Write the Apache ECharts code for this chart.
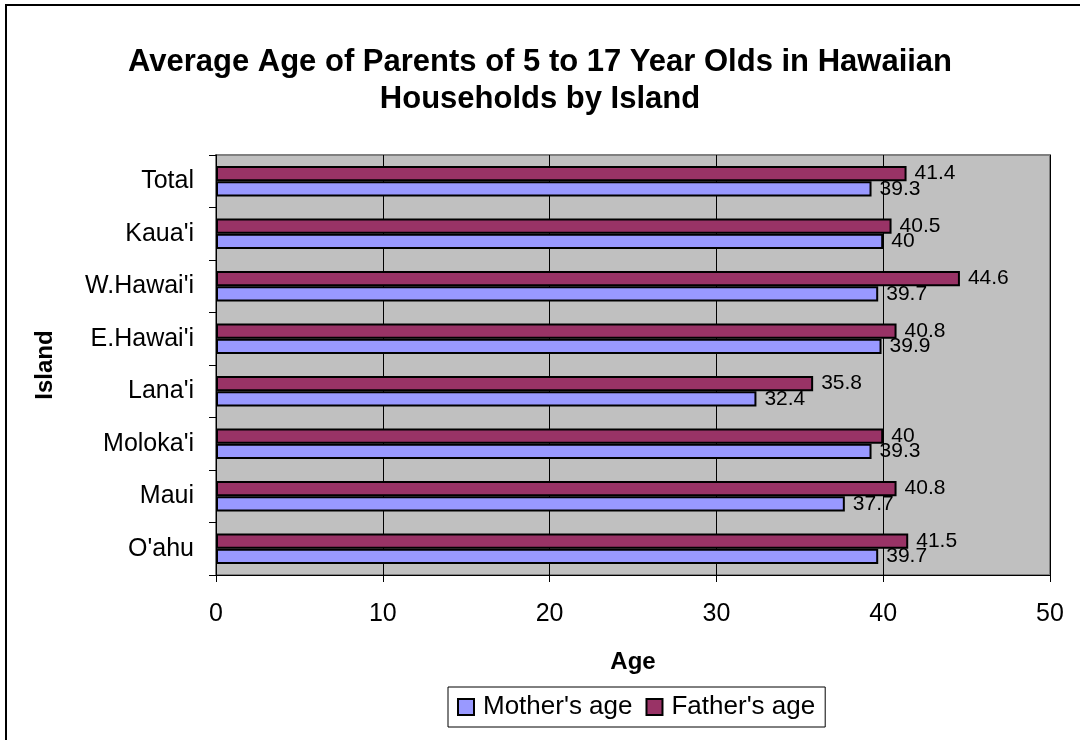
<!DOCTYPE html>
<html>
<head>
<meta charset="utf-8">
<script src="https://cdn.jsdelivr.net/npm/echarts@6/dist/echarts.min.js"></script>
<style>
  html, body { margin: 0; padding: 0; background: #fff; }
  #chart { width: 1080px; height: 740px; }
</style>
</head>
<body>
<div id="chart"></div>
<script>
// Islands listed bottom-to-top along the category axis
const islands = ["O'ahu", "Maui", "Moloka'i", "Lana'i", "E.Hawai'i", "W.Hawai'i", "Kaua'i", "Total"];
const motherAge = [39.7, 37.7, 39.3, 32.4, 39.9, 39.7, 40, 39.3];
const fatherAge = [41.5, 40.8, 40, 35.8, 40.8, 44.6, 40.5, 41.4];
const ageTicks = [0, 10, 20, 30, 40, 50];

const FONT = "'Liberation Sans', Arial, sans-serif";

const chart = echarts.init(document.getElementById('chart'), null, { renderer: 'canvas' });

const labelStyle = {
  show: true,
  position: 'right',
  distance: 8,
  color: '#000',
  fontFamily: FONT,
  fontSize: 21
};

chart.setOption({
  backgroundColor: '#fff',
  animation: false,
  title: {
    text: 'Average Age of Parents of 5 to 17 Year Olds in Hawaiian\nHouseholds by Island',
    left: 'center',
    top: 39,
    textStyle: {
      fontFamily: FONT,
      fontSize: 31,
      fontWeight: 'bold',
      color: '#000',
      lineHeight: 37
    }
  },
  legend: {
    data: ["Mother's age", "Father's age"],
    left: 448,
    top: 687,
    padding: [7, 10, 7, 9],
    itemGap: 13,
    itemWidth: 16,
    itemHeight: 16,
    borderColor: '#000',
    borderWidth: 1,
    icon: 'rect',
    itemStyle: { borderColor: '#000', borderWidth: 2 },
    textStyle: { fontFamily: FONT, fontSize: 26, color: '#000', padding: [0, 0, 0, 4] }
  },
  grid: {
    left: 216,
    right: 30,
    top: 155,
    bottom: 165,
    show: true,
    backgroundColor: '#C0C0C0',
    borderColor: '#808080',
    borderWidth: 2
  },
  xAxis: {
    type: 'value',
    min: ageTicks[0],
    max: ageTicks[ageTicks.length - 1],
    interval: 10,
    name: 'Age',
    nameLocation: 'middle',
    nameGap: 75,
    nameTextStyle: { fontFamily: FONT, fontSize: 24, fontWeight: 'bold', color: '#000' },
    axisLine: { show: true, lineStyle: { color: '#000', width: 1 } },
    axisTick: { show: true, length: 7, lineStyle: { color: '#000' } },
    axisLabel: { fontFamily: FONT, fontSize: 25, color: '#000', margin: 27 },
    splitLine: { show: true, lineStyle: { color: '#000', width: 1 } }
  },
  yAxis: {
    type: 'category',
    data: islands,
    name: 'Island',
    nameLocation: 'middle',
    nameGap: 159,
    nameTextStyle: { fontFamily: FONT, fontSize: 24, fontWeight: 'bold', color: '#000' },
    axisLine: { show: true, lineStyle: { color: '#000', width: 1 } },
    axisTick: { show: true, length: 7, lineStyle: { color: '#000' } },
    axisLabel: { fontFamily: FONT, fontSize: 25, color: '#000', margin: 22 },
    splitLine: { show: false }
  },
  // Father's bar sits above mother's within each island band
  series: [
    {
      name: "Father's age",
      type: 'bar',
      data: fatherAge,
      barGap: '0%',
      barCategoryGap: '42%',
      itemStyle: { color: '#993366', borderColor: '#000', borderWidth: 2 },
      label: labelStyle
    },
    {
      name: "Mother's age",
      type: 'bar',
      data: motherAge,
      barGap: '0%',
      barCategoryGap: '42%',
      itemStyle: { color: '#9999FF', borderColor: '#000', borderWidth: 2 },
      label: labelStyle
    }
  ],
  graphic: [
    {
      type: 'rect',
      shape: { x: 6, y: 5, width: 1200, height: 900 },
      style: { fill: 'none', stroke: '#000', lineWidth: 2 },
      silent: true
    }
  ]
});
</script>
</body>
</html>
